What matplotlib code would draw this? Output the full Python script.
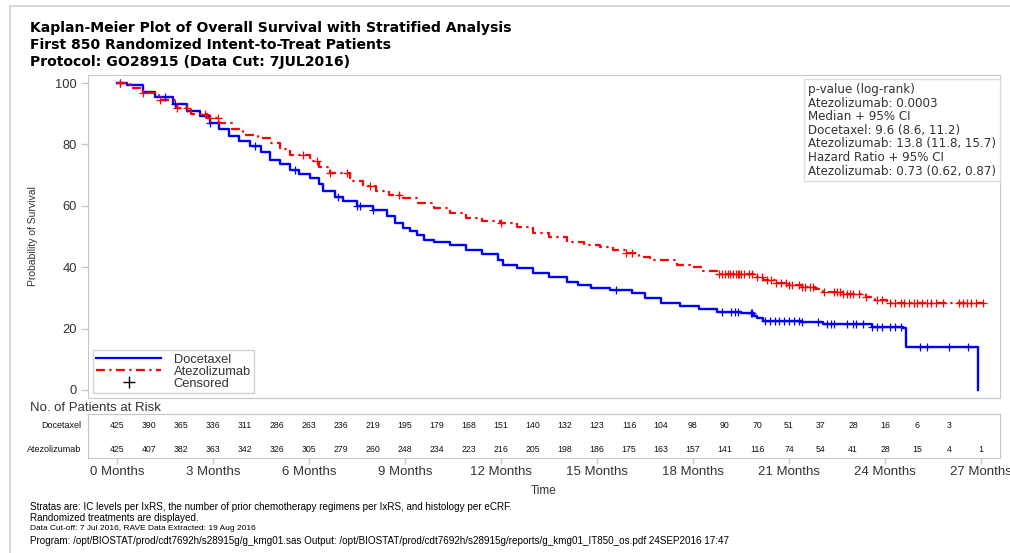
import numpy as np
import matplotlib
matplotlib.use("Agg")
import matplotlib.pyplot as plt
from matplotlib.lines import Line2D
from matplotlib.patches import Rectangle

plt.rcParams['font.family'] = ['Liberation Sans', 'DejaVu Sans']

# ---------------- data ----------------
title_lines = ["Kaplan-Meier Plot of Overall Survival with Stratified Analysis",
               "First 850 Randomized Intent-to-Treat Patients",
               "Protocol: GO28915 (Data Cut: 7JUL2016)"]

doc_t = [0, 0.3, 0.8, 1.2, 1.75, 2.2, 2.6, 2.9, 3.2, 3.5, 3.8, 4.16, 4.5, 4.78, 5.1, 5.4, 5.7,
         6.03, 6.3, 6.44, 6.8, 7.06, 7.5, 8.0, 8.44, 8.7, 8.94, 9.15, 9.37, 9.6, 9.9, 10.4,
         10.9, 11.4, 11.9, 12.06, 12.5, 13.0, 13.5, 14.06, 14.4, 14.8, 15.4, 16.1, 16.5, 17.0,
         17.6, 18.2, 18.75, 19.5, 19.9, 20.0, 20.2, 21.4, 22.07, 23.6, 24.56, 24.66, 26.9]
doc_s = [100, 99.5, 97, 95.5, 93, 91, 89.2, 87, 85, 82.7, 81, 79.5, 77.5, 75, 73.5, 71.7, 70.5,
         69, 67, 64.8, 63, 61.6, 60, 58.6, 56.7, 54.5, 52.8, 51.8, 50.5, 49, 48.2, 47.2,
         45.6, 44.3, 42.3, 40.7, 39.8, 38.1, 36.8, 35.2, 34.2, 33.2, 32.5, 31.6, 30, 28.3,
         27.2, 26.4, 25.4, 25, 24.2, 23.5, 22.5, 22.2, 21.5, 20.5, 20.2, 14, 0]

atz_t = [0, 0.4, 0.8, 1.3, 1.87, 2.3, 2.8, 3.2, 3.6, 3.94, 4.4, 4.78, 5.1, 5.4, 6.03, 6.3, 6.66,
         7.28, 7.7, 8.1, 8.5, 8.94, 9.4, 9.9, 10.4, 10.9, 11.4, 11.97, 12.5, 13.0, 13.5, 14.06,
         14.6, 15.1, 15.5, 15.9, 16.3, 16.66, 17.5, 17.9, 18.3, 18.75, 19.9, 20.2, 20.6, 21.0,
         21.4, 21.8, 22.07, 22.7, 23.4, 23.7, 24.06, 27.1]
atz_s = [100, 98.5, 96.7, 94.5, 91.9, 90, 88.6, 87, 85, 83, 82, 80.5, 78.5, 76.5, 74.6, 72.5, 70.7,
         68, 66.5, 64.8, 63.5, 62.5, 61, 59.3, 57.5, 56, 55, 54.4, 53.1, 51.1, 49.8, 48.2,
         47.3, 46.6, 45.5, 44.6, 43.3, 42.3, 40.8, 40, 38.8, 37.8, 36.8, 35.8, 34.8, 34.2,
         33.5, 32.8, 32, 31.2, 30.3, 29.3, 28.3, 28.3]

doc_cens = [0.1, 1.5, 1.8, 2.9, 4.3, 5.56, 6.9, 7.5, 7.6, 8.0, 15.6,
            18.9, 19.2, 19.3, 19.4, 19.8, 19.85, 20.25, 20.4, 20.55, 20.7, 20.85, 21.0, 21.15,
            21.3, 21.4, 21.9, 22.2, 22.3, 22.4, 22.8, 23.0, 23.1, 23.3, 23.6, 23.75, 23.9,
            24.15, 24.3, 24.5, 25.1, 25.3, 26.0, 26.6]
atz_cens = [0.1, 0.8, 1.35, 1.87, 2.2, 2.75, 2.9, 3.16, 5.8, 6.25, 6.66, 7.2, 7.9, 8.8, 12.0,
            15.9, 16.1, 18.8, 18.9, 19.0, 19.1, 19.15, 19.25, 19.35, 19.4, 19.45, 19.5, 19.6,
            19.75, 19.85, 20.0, 20.15, 20.3, 20.45, 20.6, 20.75, 20.9, 21.0, 21.1, 21.3, 21.4,
            21.5, 21.65, 21.75, 22.1, 22.4, 22.5, 22.6, 22.7, 22.8, 22.9, 23.0, 23.2, 23.4,
            23.75, 23.9, 24.15, 24.3, 24.5, 24.6, 24.75, 24.9, 25.0, 25.15, 25.3, 25.45, 25.6,
            25.8, 26.3, 26.45, 26.55, 26.7, 26.85, 27.06]

risk_months = list(range(0, 28))
doc_risk = [425, 390, 365, 336, 311, 286, 263, 236, 219, 195, 179, 168, 151, 140, 132, 123,
            116, 104, 98, 90, 70, 51, 37, 28, 16, 6, 3]
atz_risk = [425, 407, 382, 363, 342, 326, 305, 279, 260, 248, 234, 223, 216, 205, 198, 186,
            175, 163, 157, 141, 116, 74, 54, 41, 28, 15, 4, 1]

xticks = [0, 3, 6, 9, 12, 15, 18, 21, 24, 27]
xticklabels = [f"{m} Months" for m in xticks]
yticks = [0, 20, 40, 60, 80, 100]

stats_lines = ["p-value (log-rank)",
               "Atezolizumab: 0.0003",
               "Median + 95% CI",
               "Docetaxel: 9.6 (8.6, 11.2)",
               "Atezolizumab: 13.8 (11.8, 15.7)",
               "Hazard Ratio + 95% CI",
               "Atezolizumab: 0.73 (0.62, 0.87)"]

foot1 = "Stratas are: IC levels per IxRS, the number of prior chemotherapy regimens per IxRS, and histology per eCRF."
foot2 = "Randomized treatments are displayed."
foot3 = "Data Cut-off: 7 Jul 2016, RAVE Data Extracted: 19 Aug 2016"
foot4 = ("Program: /opt/BIOSTAT/prod/cdt7692h/s28915g/g_kmg01.sas Output: "
         "/opt/BIOSTAT/prod/cdt7692h/s28915g/reports/g_kmg01_IT850_os.pdf 24SEP2016 17:47")

# ---------------- layout ----------------
W, H = 1010, 553
fig = plt.figure(figsize=(W / 100, H / 100), dpi=100)
fig.patch.set_facecolor('white')

def fx(px):
    return px / W

def fy(py):
    return 1 - py / H

GRAY = '#c8c8c8'
TXT = '#333333'

# outer frame
fig.add_artist(Rectangle((fx(10), fy(560)), fx(1015) - fx(10), fy(6) - fy(560),
                         transform=fig.transFigure, fill=False, edgecolor='#d9d9d9', lw=1.5))

L, R = 88, 1000
x0 = (L - 117) / 32.0
x1 = (R - 117) / 32.0
ax = fig.add_axes([fx(L), fy(398), fx(R) - fx(L), fy(75) - fy(398)])
ax.set_xlim(x0, x1)
ax.set_ylim((390 - 398) / 3.07, (390 - 75) / 3.07)
for sp in ax.spines.values():
    sp.set_color(GRAY)
ax.set_xticks([])
ax.set_yticks(yticks)
ax.set_yticklabels([str(v) for v in yticks], fontsize=9.3, color=TXT)
ax.tick_params(axis='y', colors=GRAY, labelcolor=TXT, length=5, width=1, pad=3)
ax.set_ylabel("Probability of Survival", fontsize=7.5, color=TXT, labelpad=12)

def km_at(ts, ss, t):
    i = np.searchsorted(np.asarray(ts), t, side='right') - 1
    return np.asarray(ss)[i]

blue = '#0000ff'
red = '#ff0000'
ax.plot(doc_t, doc_s, drawstyle='steps-post', color=blue, lw=1.7, zorder=3)
lr, = ax.plot(atz_t, atz_s, drawstyle='steps-post', color=red, lw=1.6, zorder=3)
lr.set_dashes([4, 2, 1, 2])
ax.plot(doc_cens, km_at(doc_t, doc_s, doc_cens), ls='none', marker='+', ms=6, mew=0.9,
        color=blue, zorder=4)
ax.plot(atz_cens, km_at(atz_t, atz_s, atz_cens), ls='none', marker='+', ms=6, mew=0.9,
        color=red, zorder=4)

h1 = Line2D([], [], color=blue, lw=1.6)
h2 = Line2D([], [], color=red, lw=1.6, dashes=[4, 2, 1, 2])
h3 = Line2D([], [], ls='none', marker='+', color='black', ms=8, mew=1)
leg = ax.legend([h1, h2, h3], ["Docetaxel", "Atezolizumab", "Censored"], loc='lower left',
                bbox_to_anchor=((93 - L) / (R - L), (398 - 393) / 323.0),
                borderaxespad=0, frameon=True, fancybox=False, fontsize=9.3, handlelength=5.0,
                handletextpad=1.0, labelspacing=0.0, borderpad=0.25)
leg.get_frame().set_edgecolor(GRAY)
leg.get_frame().set_linewidth(1)
for t in leg.get_texts():
    t.set_color(TXT)

# stats box
ax.text((808 - L) / (R - L), (398 - 83) / 323.0, "\n".join(stats_lines), transform=ax.transAxes,
        ha='left', va='top', fontsize=8.6, color=TXT, linespacing=1.06, family='DejaVu Sans',
        bbox=dict(boxstyle='square,pad=0.3', facecolor='white', edgecolor='#dddddd', lw=1))

# risk table
tab = fig.add_axes([fx(L), fy(458), fx(R) - fx(L), fy(414) - fy(458)])
tab.set_xlim(x0, x1)
tab.set_ylim(0, 1)
for sp in tab.spines.values():
    sp.set_color(GRAY)
tab.set_yticks([])
tab.set_xticks(xticks)
tab.set_xticklabels(xticklabels, fontsize=9.5, color=TXT)
tab.tick_params(axis='x', colors=GRAY, labelcolor=TXT, length=4, width=1, pad=2)
tab.set_xlabel("Time", fontsize=8.5, color=TXT, labelpad=5)
for m, v in zip(risk_months, doc_risk):
    tab.text(m, 0.75, str(v), ha='center', va='center', fontsize=6.3, color='#111111')
for m, v in zip(risk_months, atz_risk):
    tab.text(m, 0.2, str(v), ha='center', va='center', fontsize=6.3, color='#111111')
fig.text(fx(81), fy(425), "Docetaxel", ha='right', va='center', fontsize=6.5, color='#111111')
fig.text(fx(81), fy(449), "Atezolizumab", ha='right', va='center', fontsize=6.5, color='#111111')
fig.text(fx(30), fy(408), "No. of Patients at Risk", ha='left', va='center', fontsize=9.5,
         color=TXT)

# titles
for i, line in enumerate(title_lines):
    fig.text(fx(30), fy(28 + 17 * i), line, ha='left', va='center', fontsize=10.1,
             fontweight='bold', color='black', family='DejaVu Sans')

# footnotes
fig.text(fx(30), fy(507), foot1, ha='left', va='center', fontsize=7.1, color='black')
fig.text(fx(30), fy(518), foot2, ha='left', va='center', fontsize=7.1, color='black')
fig.text(fx(30), fy(529), foot3, ha='left', va='center', fontsize=6.0, color='black')
fig.text(fx(30), fy(541), foot4, ha='left', va='center', fontsize=7.1, color='black')

fig.savefig("out.png", dpi=100, facecolor='white')
